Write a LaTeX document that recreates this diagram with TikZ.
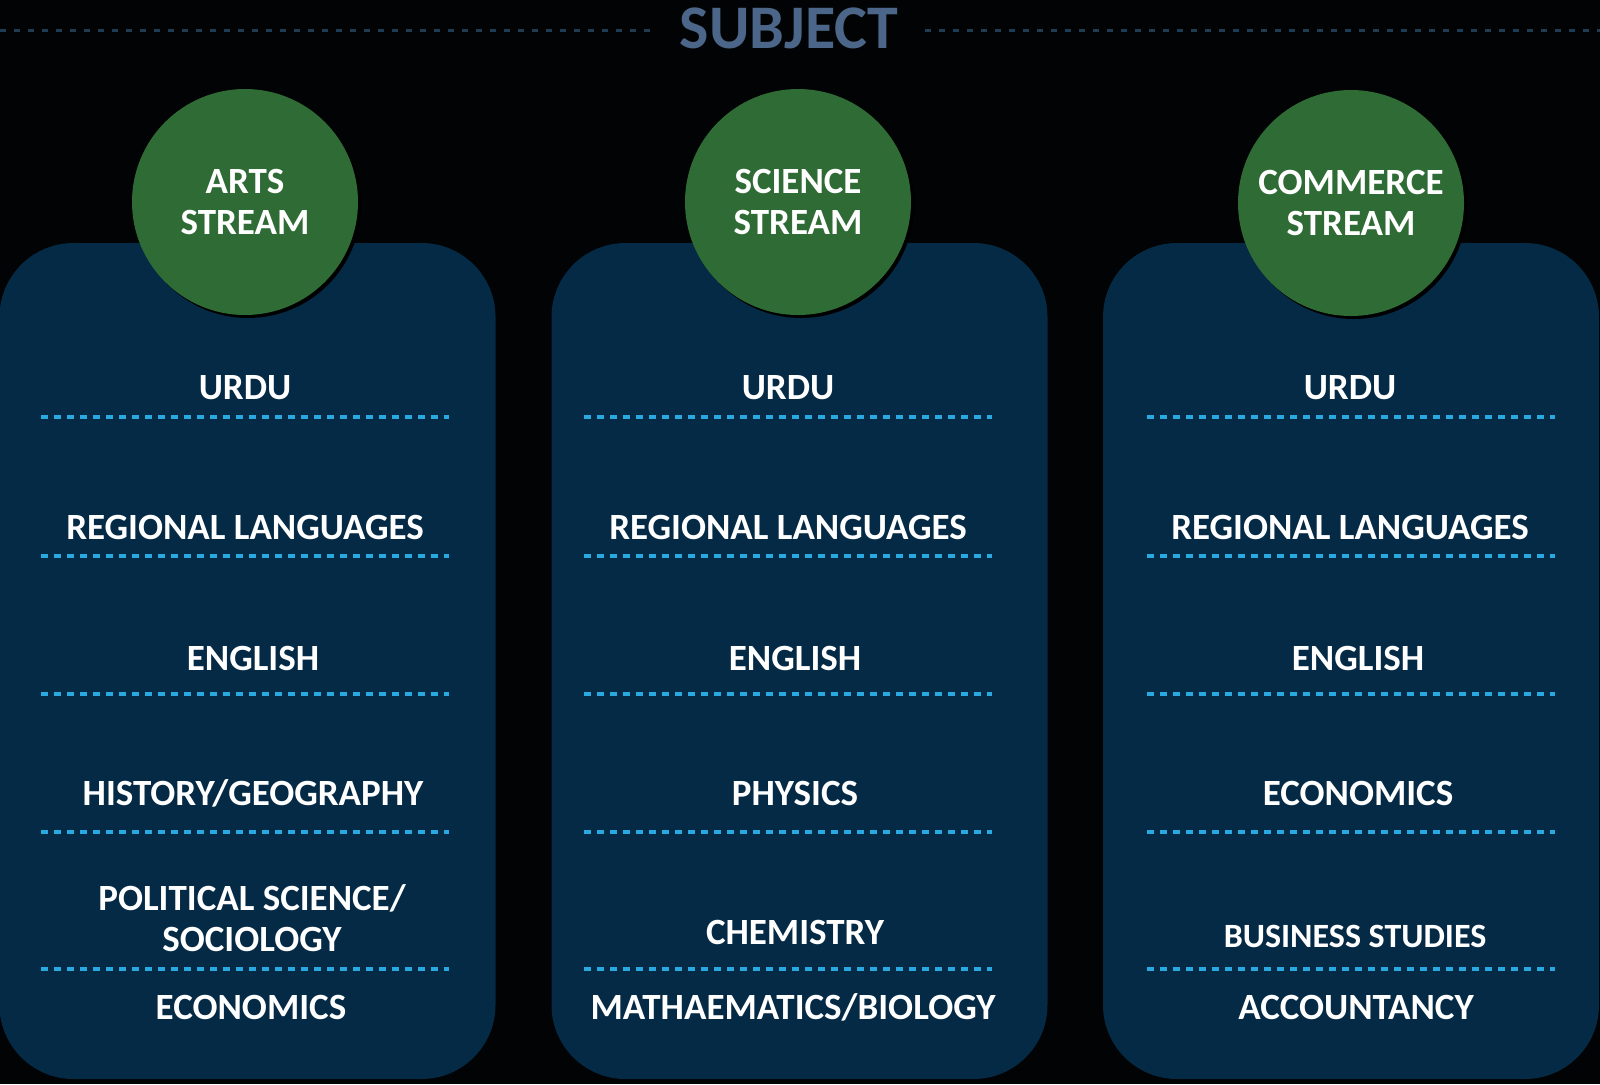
\documentclass[tikz,border=0pt]{standalone}
\usepackage{fontspec}
\setmainfont{Carlito}
\usepackage{xcolor}
\usepackage{tikz}
\usetikzlibrary{positioning,shadows}
\definecolor{cBack}{HTML}{020304}
\definecolor{cPanel}{HTML}{052A46}
\definecolor{cStream}{HTML}{2F6B34}
\definecolor{cDash}{HTML}{2AA8E0}
\definecolor{cTitle}{HTML}{4B6689}
\definecolor{cRule}{HTML}{1F3C52}
\tikzset{
  panel/.style  = {fill=cPanel, rounded corners=37pt, inner sep=0pt,
                   minimum width=248pt, minimum height=418pt},
  stream/.style = {circle, fill=cStream, minimum size=113pt, inner sep=0pt,
                   text=white, align=center,
                   font=\fontsize{18.5}{20.5}\selectfont\bfseries,
                   drop shadow={shadow xshift=1.5pt, shadow yshift=-1.5pt,
                                fill=black, opacity=1}},
  item/.style   = {text=white, align=center, inner sep=0pt,
                   font=\fontsize{18.5}{20.5}\selectfont\bfseries},
  sep/.style    = {draw=cDash, line width=2pt, dash pattern=on 3.5pt off 3pt},
  titlerule/.style = {draw=cRule, line width=1.5pt, dash pattern=on 3pt off 4pt},
}

\begin{document}
\begin{tikzpicture}[x=0.5pt, y=-0.5pt]
  \fill[cBack] (0,0) rectangle (1600,1084);
  \useasboundingbox (0,0) rectangle (1600,1084);

  % title with its rule
  \node[text=cTitle, font=\fontsize{31}{34}\selectfont\bfseries] (title) at (789,28) {SUBJECT};
  \coordinate (ruleL) at (0,30);
  \coordinate (ruleR) at (1600,30);
  \draw[titlerule] (ruleL) -- ([xshift=-8pt]title.west |- ruleL);
  \draw[titlerule] ([xshift=10pt]title.east |- ruleR) -- (ruleR);

  % panels
  \node[panel] (artsP) at (247.5,661) {};
  \node[panel] (sciP)  at (799.5,661) {};
  \node[panel] (comP)  at (1351,661) {};

  % stream heads
  \node[stream] (arts) at (245,202)  {ARTS\\STREAM};
  \node[stream] (sci)  at (798,202)  {SCIENCE\\STREAM};
  \node[stream] (com)  at (1351,203) {COMMERCE\\STREAM};

  % separators
  \foreach \y in {417,556,694,832,969} {
    \draw[sep] (41,\y) -- (449,\y);
    \draw[sep] (584,\y) -- (992,\y);
    \draw[sep] (1147,\y) -- (1555,\y);
  }

  % arts subjects
  \node[item] (aUrdu) at (245,388)  {URDU};
  \node[item] (aReg)  at (245,527)  {REGIONAL LANGUAGES};
  \node[item] (aEng)  at (253,658)  {ENGLISH};
  \node[item] (aHist) at (253,793)  {HISTORY/GEOGRAPHY};
  \node[item] (aPol)  at (252,918)  {POLITICAL SCIENCE/\\SOCIOLOGY};
  \node[item] (aEco)  at (251,1007) {ECONOMICS};

  % science subjects
  \node[item] (sUrdu) at (788,388)  {URDU};
  \node[item] (sReg)  at (788,527)  {REGIONAL LANGUAGES};
  \node[item] (sEng)  at (795,658)  {ENGLISH};
  \node[item] (sPhy)  at (795,793)  {PHYSICS};
  \node[item] (sChem) at (795,932)  {CHEMISTRY};
  \node[item] (sMath) at (793,1007) {MATHAEMATICS/BIOLOGY};

  % commerce subjects
  \node[item] (cUrdu) at (1350,388)  {URDU};
  \node[item] (cReg)  at (1350,527)  {REGIONAL LANGUAGES};
  \node[item] (cEng)  at (1358,658)  {ENGLISH};
  \node[item] (cEco)  at (1358,793)  {ECONOMICS};
  \node[item, font=\fontsize{17}{19}\selectfont\bfseries] (cBus) at (1355,936) {BUSINESS STUDIES};
  \node[item] (cAcc)  at (1356,1007) {ACCOUNTANCY};
\end{tikzpicture}
\end{document}
